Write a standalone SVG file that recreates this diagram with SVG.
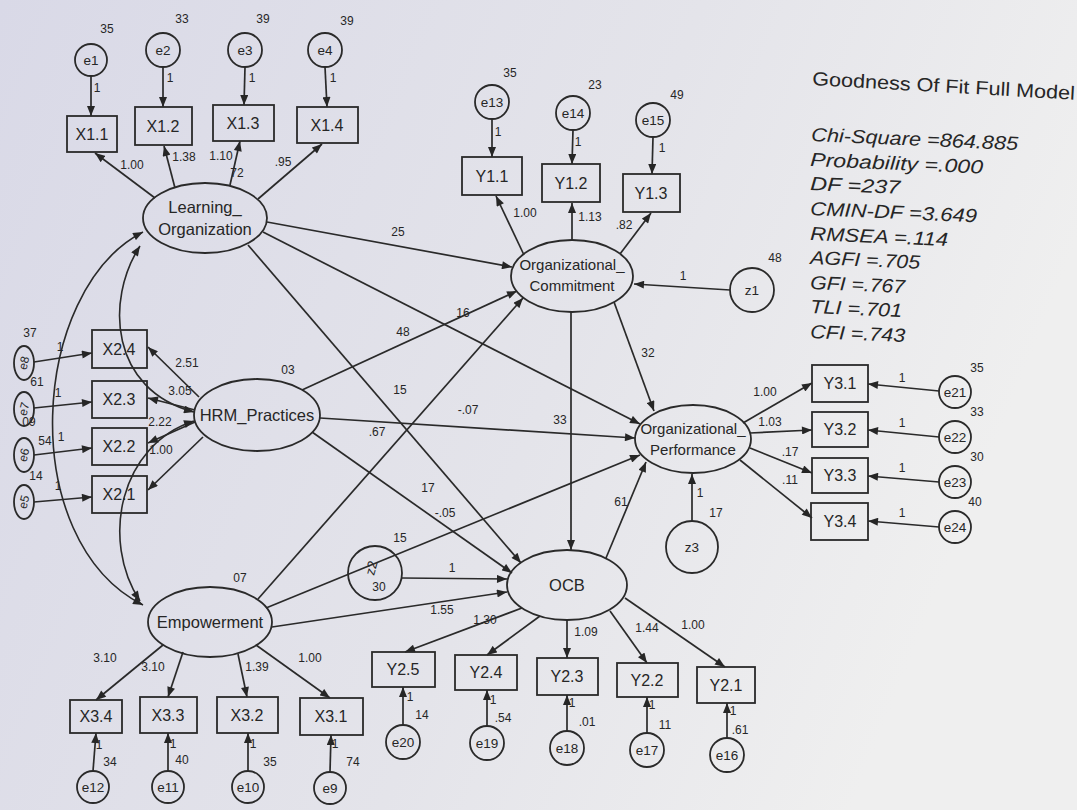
<svg xmlns="http://www.w3.org/2000/svg" width="1077" height="810" viewBox="0 0 1077 810">
<defs>
<linearGradient id="bg" x1="0" y1="0" x2="1" y2="0.3">
<stop offset="0" stop-color="#d9d9e7"/>
<stop offset="0.6" stop-color="#e4e4ea"/>
<stop offset="1" stop-color="#efefef"/>
</linearGradient>
<marker id="a" viewBox="0 0 10 8" refX="10" refY="4" markerWidth="11" markerHeight="8" markerUnits="userSpaceOnUse" orient="auto-start-reverse">
<path d="M0,0 L10,4 L0,8 z" fill="#262626"/>
</marker>
<style>
.n{fill:none;stroke:#2a2a2a;stroke-width:1.8}
.c{fill:none;stroke:#2a2a2a;stroke-width:1.7;marker-end:url(#a)}
.cc{fill:none;stroke:#2a2a2a;stroke-width:1.6;marker-start:url(#a);marker-end:url(#a)}
.t{font-family:"Liberation Sans",Arial,sans-serif;fill:#262626;text-anchor:middle}
.lt{font-size:16.5px}
.mt{font-size:15px}
.bt{font-size:16px}
.et{font-size:13.5px}
.sl{font-size:12px}
.ft{font-family:"Liberation Sans",Arial,sans-serif;fill:#262626;font-size:19px;font-style:italic}
</style>
</defs>
<rect width="1077" height="810" fill="url(#bg)"/>

<g id="connectors">
<line class="c" x1="91" y1="76" x2="91" y2="116"/>
<line class="c" x1="163" y1="67" x2="163" y2="107"/>
<line class="c" x1="245" y1="67" x2="244" y2="105"/>
<line class="c" x1="325" y1="67" x2="327" y2="107"/>
<line class="c" x1="155" y1="198" x2="95" y2="153"/>
<line class="c" x1="175" y1="188" x2="164" y2="146"/>
<line class="c" x1="230" y1="185" x2="240" y2="141"/>
<line class="c" x1="258" y1="199" x2="322" y2="144"/>
<line class="c" x1="492" y1="119" x2="492" y2="157"/>
<line class="c" x1="573" y1="130" x2="572" y2="164"/>
<line class="c" x1="653" y1="137" x2="652" y2="174"/>
<line class="c" x1="524" y1="255" x2="496" y2="196"/>
<line class="c" x1="572" y1="240" x2="572" y2="203"/>
<line class="c" x1="620" y1="254" x2="651" y2="213"/>
<line class="c" x1="730" y1="290" x2="634" y2="284"/>
<line class="c" x1="267" y1="222" x2="512" y2="267"/>
<line class="c" x1="263" y1="232" x2="640" y2="424"/>
<line class="c" x1="248" y1="245" x2="521" y2="563"/>
<line class="c" x1="302" y1="390" x2="517" y2="291"/>
<line class="c" x1="258" y1="599" x2="523" y2="298"/>
<line class="c" x1="320" y1="418" x2="635" y2="438"/>
<line class="c" x1="312" y1="432" x2="512" y2="573"/>
<line class="c" x1="272" y1="627" x2="507" y2="592"/>
<line class="c" x1="266" y1="608" x2="640" y2="455"/>
<line class="c" x1="571" y1="312" x2="571" y2="550"/>
<line class="c" x1="614" y1="302" x2="654" y2="411"/>
<line class="c" x1="606" y1="558" x2="646" y2="462"/>
<line class="c" x1="402" y1="578" x2="507" y2="579"/>
<line class="c" x1="692" y1="521" x2="692" y2="474"/>
<line class="c" x1="199" y1="397" x2="148" y2="347"/>
<line class="c" x1="195" y1="410" x2="148" y2="398"/>
<line class="c" x1="195" y1="422" x2="148" y2="443"/>
<line class="c" x1="203" y1="437" x2="148" y2="490"/>
<line class="c" x1="34" y1="362" x2="92" y2="353"/>
<line class="c" x1="34" y1="408" x2="92" y2="402"/>
<line class="c" x1="34" y1="455" x2="92" y2="448"/>
<line class="c" x1="34" y1="502" x2="92" y2="497"/>
<path class="cc" d="M143,232 C30,290 15,540 143,605"/>
<path class="cc" d="M140,246 C105,300 110,390 194,412"/>
<path class="cc" d="M194,421 C120,445 100,540 140,601"/>
<line class="c" x1="743" y1="423" x2="812" y2="383"/>
<line class="c" x1="750" y1="433" x2="812" y2="430"/>
<line class="c" x1="750" y1="448" x2="812" y2="473"/>
<line class="c" x1="740" y1="460" x2="812" y2="518"/>
<line class="c" x1="939" y1="391" x2="868" y2="384"/>
<line class="c" x1="939" y1="437" x2="868" y2="430"/>
<line class="c" x1="939" y1="482" x2="868" y2="476"/>
<line class="c" x1="939" y1="527" x2="868" y2="521"/>
<line class="c" x1="522" y1="608" x2="405" y2="652"/>
<line class="c" x1="540" y1="616" x2="487" y2="655"/>
<line class="c" x1="567" y1="620" x2="567" y2="658"/>
<line class="c" x1="610" y1="611" x2="647" y2="663"/>
<line class="c" x1="625" y1="598" x2="725" y2="667"/>
<line class="c" x1="403" y1="725" x2="403" y2="687"/>
<line class="c" x1="487" y1="726" x2="487" y2="690"/>
<line class="c" x1="567" y1="731" x2="567" y2="695"/>
<line class="c" x1="647" y1="733" x2="647" y2="697"/>
<line class="c" x1="727" y1="738" x2="727" y2="703"/>
<line class="c" x1="163" y1="645" x2="96" y2="700"/>
<line class="c" x1="183" y1="652" x2="168" y2="697"/>
<line class="c" x1="238" y1="654" x2="247" y2="697"/>
<line class="c" x1="256" y1="645" x2="330" y2="698"/>
<line class="c" x1="93" y1="771" x2="96" y2="733"/>
<line class="c" x1="168" y1="771" x2="168" y2="733"/>
<line class="c" x1="248" y1="771" x2="248" y2="733"/>
<line class="c" x1="330" y1="772" x2="331" y2="735"/>
</g>

<g id="labels" class="t sl">
<text x="107" y="33">35</text><text x="182" y="23">33</text><text x="263" y="23">39</text><text x="347" y="25">39</text>
<text x="97" y="92">1</text><text x="170" y="82">1</text><text x="252" y="82">1</text><text x="333" y="82">1</text>
<text x="132" y="169">1.00</text><text x="184" y="161">1.38</text><text x="221" y="160">1.10</text><text x="237" y="177">72</text><text x="283" y="166">.95</text>
<text x="510" y="77">35</text><text x="595" y="89">23</text><text x="677" y="99">49</text>
<text x="498" y="136">1</text><text x="578" y="146">1</text><text x="662" y="152">1</text>
<text x="525" y="217">1.00</text><text x="590" y="221">1.13</text><text x="624" y="229">.82</text>
<text x="683" y="280">1</text><text x="775" y="262">48</text>
<text x="398" y="236">25</text><text x="463" y="317">16</text><text x="403" y="336">48</text>
<text x="400" y="394">15</text><text x="468" y="414">-.07</text><text x="560" y="424">33</text>
<text x="377" y="436">.67</text><text x="428" y="492">17</text><text x="445" y="517">-.05</text>
<text x="400" y="542">15</text><text x="452" y="572">1</text>
<text x="648" y="357">32</text><text x="621" y="506">61</text>
<text x="700" y="497">1</text><text x="716" y="517">17</text>
<text x="288" y="374">03</text><text x="240" y="582">07</text>
<text x="187" y="367">2.51</text><text x="180" y="395">3.05</text><text x="160" y="426">2.22</text><text x="161" y="454">1.00</text>
<text x="30" y="337">37</text><text x="37" y="386">61</text><text x="29" y="426">09</text><text x="45" y="445">54</text><text x="36" y="480">14</text>
<text x="60" y="351">1</text><text x="58" y="397">1</text><text x="61" y="441">1</text><text x="58" y="490">1</text>
<text x="765" y="396">1.00</text><text x="770" y="426">1.03</text><text x="790" y="456">.17</text><text x="790" y="484">.11</text>
<text x="902" y="382">1</text><text x="902" y="427">1</text><text x="902" y="472">1</text><text x="902" y="517">1</text>
<text x="977" y="372">35</text><text x="977" y="416">33</text><text x="977" y="461">30</text><text x="975" y="506">40</text>
<text x="442" y="614">1.55</text><text x="485" y="624">1.30</text><text x="586" y="636">1.09</text><text x="647" y="632">1.44</text><text x="693" y="629">1.00</text>
<text x="410" y="701">1</text><text x="493" y="704">1</text><text x="572" y="707">1</text><text x="652" y="709">1</text><text x="733" y="715">1</text>
<text x="422" y="719">14</text><text x="503" y="722">.54</text><text x="587" y="726">.01</text><text x="665" y="729">11</text><text x="740" y="734">.61</text>
<text x="105" y="662">3.10</text><text x="153" y="671">3.10</text><text x="257" y="671">1.39</text><text x="310" y="662">1.00</text>
<text x="99" y="749">1</text><text x="173" y="748">1</text><text x="253" y="748">1</text><text x="335" y="748">1</text>
<text x="110" y="766">34</text><text x="182" y="764">40</text><text x="270" y="766">35</text><text x="353" y="766">74</text>
</g>

<g id="e1"><circle class="n" cx="91" cy="60" r="16"/><text class="t et" x="91" y="65">e1</text></g>
<g id="e2"><circle class="n" cx="163" cy="50" r="17"/><text class="t et" x="163" y="55">e2</text></g>
<g id="e3"><circle class="n" cx="245" cy="50" r="17"/><text class="t et" x="245" y="55">e3</text></g>
<g id="e4"><circle class="n" cx="325" cy="50" r="17"/><text class="t et" x="325" y="55">e4</text></g>
<g id="X1.1"><rect class="n" x="67" y="116" width="50" height="36"/><text class="t bt" x="92" y="140">X1.1</text></g>
<g id="X1.2"><rect class="n" x="135" y="107" width="57" height="38"/><text class="t bt" x="163" y="132">X1.2</text></g>
<g id="X1.3"><rect class="n" x="213" y="105" width="61" height="36"/><text class="t bt" x="243" y="129">X1.3</text></g>
<g id="X1.4"><rect class="n" x="297" y="107" width="61" height="36"/><text class="t bt" x="327" y="131">X1.4</text></g>
<g id="Learning_Organization"><ellipse class="n" cx="205" cy="218" rx="62" ry="35"/><text class="t lt" x="205" y="213">Learning_</text><text class="t lt" x="205" y="235">Organization</text></g>

<g id="e13"><circle class="n" cx="492" cy="102" r="17"/><text class="t et" x="492" y="107">e13</text></g>
<g id="e14"><circle class="n" cx="573" cy="113" r="17"/><text class="t et" x="573" y="118">e14</text></g>
<g id="e15"><circle class="n" cx="653" cy="120" r="17"/><text class="t et" x="653" y="125">e15</text></g>
<g id="Y1.1"><rect class="n" x="462" y="157" width="60" height="38"/><text class="t bt" x="492" y="182">Y1.1</text></g>
<g id="Y1.2"><rect class="n" x="542" y="164" width="58" height="38"/><text class="t bt" x="571" y="189">Y1.2</text></g>
<g id="Y1.3"><rect class="n" x="623" y="174" width="57" height="38"/><text class="t bt" x="651" y="199">Y1.3</text></g>
<g id="Organizational_Commitment"><ellipse class="n" cx="572" cy="276" rx="61" ry="36"/><text class="t mt" x="572" y="270">Organizational_</text><text class="t mt" x="572" y="291">Commitment</text></g>
<g id="z1"><circle class="n" cx="752" cy="290" r="22"/><text class="t et" x="752" y="295">z1</text></g>

<g id="HRM_Practices"><ellipse class="n" cx="257" cy="415" rx="63" ry="36"/><text class="t lt" x="257" y="421">HRM_Practices</text></g>
<g id="X2.4"><rect class="n" x="92" y="330" width="55" height="38"/><text class="t bt" x="119" y="355">X2.4</text></g>
<g id="X2.3"><rect class="n" x="92" y="381" width="55" height="37"/><text class="t bt" x="119" y="405">X2.3</text></g>
<g id="X2.2"><rect class="n" x="92" y="428" width="55" height="37"/><text class="t bt" x="119" y="452">X2.2</text></g>
<g id="X2.1"><rect class="n" x="92" y="476" width="55" height="37"/><text class="t bt" x="119" y="500">X2.1</text></g>
<g id="e8"><ellipse class="n" cx="24" cy="363" rx="10" ry="17"/><text class="t sl" transform="rotate(-75 24 363)" x="24" y="367">e8</text></g>
<g id="e7"><ellipse class="n" cx="24" cy="409" rx="10" ry="17"/><text class="t sl" transform="rotate(-75 24 409)" x="24" y="413">e7</text></g>
<g id="e6"><ellipse class="n" cx="24" cy="455" rx="10" ry="17"/><text class="t sl" transform="rotate(-75 24 455)" x="24" y="459">e6</text></g>
<g id="e5"><ellipse class="n" cx="24" cy="502" rx="10" ry="17"/><text class="t sl" transform="rotate(-75 24 502)" x="24" y="506">e5</text></g>

<g id="Organizational_Performance"><ellipse class="n" cx="693" cy="439" rx="58" ry="34"/><text class="t mt" x="693" y="434">Organizational_</text><text class="t mt" x="693" y="455">Performance</text></g>
<g id="z3"><circle class="n" cx="692" cy="547" r="26"/><text class="t et" x="692" y="552">z3</text></g>
<g id="Y3.1"><rect class="n" x="812" y="365" width="56" height="37"/><text class="t bt" x="840" y="389">Y3.1</text></g>
<g id="Y3.2"><rect class="n" x="812" y="412" width="56" height="35"/><text class="t bt" x="840" y="435">Y3.2</text></g>
<g id="Y3.3"><rect class="n" x="812" y="458" width="56" height="35"/><text class="t bt" x="840" y="481">Y3.3</text></g>
<g id="Y3.4"><rect class="n" x="811" y="503" width="57" height="37"/><text class="t bt" x="840" y="527">Y3.4</text></g>
<g id="e21"><circle class="n" cx="955" cy="392" r="16"/><text class="t et" x="955" y="397">e21</text></g>
<g id="e22"><circle class="n" cx="955" cy="437" r="16"/><text class="t et" x="955" y="442">e22</text></g>
<g id="e23"><circle class="n" cx="955" cy="482" r="16"/><text class="t et" x="955" y="487">e23</text></g>
<g id="e24"><circle class="n" cx="955" cy="527" r="16"/><text class="t et" x="955" y="532">e24</text></g>

<g id="OCB"><ellipse class="n" cx="567" cy="585" rx="60" ry="35"/><text class="t lt" x="567" y="591">OCB</text></g>
<g id="z2"><circle class="n" cx="375" cy="573" r="27"/><text class="t et" transform="rotate(-75 372 568)" x="372" y="572">z2</text><text class="t sl" x="379" y="591">30</text></g>
<g id="Y2.5"><rect class="n" x="372" y="652" width="63" height="35"/><text class="t bt" x="403" y="675">Y2.5</text></g>
<g id="Y2.4"><rect class="n" x="455" y="655" width="62" height="35"/><text class="t bt" x="486" y="678">Y2.4</text></g>
<g id="Y2.3"><rect class="n" x="537" y="658" width="61" height="37"/><text class="t bt" x="567" y="682">Y2.3</text></g>
<g id="Y2.2"><rect class="n" x="617" y="663" width="61" height="34"/><text class="t bt" x="647" y="686">Y2.2</text></g>
<g id="Y2.1"><rect class="n" x="697" y="667" width="58" height="36"/><text class="t bt" x="726" y="691">Y2.1</text></g>
<g id="e20"><circle class="n" cx="403" cy="742" r="17"/><text class="t et" x="403" y="747">e20</text></g>
<g id="e19"><circle class="n" cx="487" cy="743" r="17"/><text class="t et" x="487" y="748">e19</text></g>
<g id="e18"><circle class="n" cx="567" cy="748" r="17"/><text class="t et" x="567" y="753">e18</text></g>
<g id="e17"><circle class="n" cx="647" cy="750" r="17"/><text class="t et" x="647" y="755">e17</text></g>
<g id="e16"><circle class="n" cx="727" cy="755" r="17"/><text class="t et" x="727" y="760">e16</text></g>

<g id="Empowerment"><ellipse class="n" cx="210" cy="622" rx="62" ry="35"/><text class="t lt" x="210" y="628">Empowerment</text></g>
<g id="X3.4"><rect class="n" x="70" y="700" width="52" height="33"/><text class="t bt" x="96" y="722">X3.4</text></g>
<g id="X3.3"><rect class="n" x="140" y="697" width="57" height="36"/><text class="t bt" x="168" y="721">X3.3</text></g>
<g id="X3.2"><rect class="n" x="217" y="697" width="61" height="36"/><text class="t bt" x="247" y="721">X3.2</text></g>
<g id="X3.1"><rect class="n" x="300" y="698" width="63" height="37"/><text class="t bt" x="331" y="722">X3.1</text></g>
<g id="e12"><circle class="n" cx="93" cy="787" r="16"/><text class="t et" x="93" y="792">e12</text></g>
<g id="e11"><circle class="n" cx="168" cy="787" r="16"/><text class="t et" x="168" y="792">e11</text></g>
<g id="e10"><circle class="n" cx="248" cy="787" r="16"/><text class="t et" x="248" y="792">e10</text></g>
<g id="e9"><circle class="n" cx="330" cy="788" r="16"/><text class="t et" x="330" y="793">e9</text></g>

<g id="fit">
<text class="ft" style="font-style:normal" x="812" y="85" transform="rotate(3.2 812 85)" textLength="263" lengthAdjust="spacingAndGlyphs">Goodness Of Fit Full Model</text>
<text class="ft" x="811" y="141" transform="rotate(2.5 811 141)" textLength="207" lengthAdjust="spacingAndGlyphs">Chi-Square =864.885</text>
<text class="ft" x="810" y="166" transform="rotate(2.5 810 166)" textLength="173" lengthAdjust="spacingAndGlyphs">Probability =.000</text>
<text class="ft" x="810" y="190" transform="rotate(2.5 810 190)" textLength="90" lengthAdjust="spacingAndGlyphs">DF =237</text>
<text class="ft" x="810" y="215" transform="rotate(2.5 810 215)" textLength="167" lengthAdjust="spacingAndGlyphs">CMIN-DF =3.649</text>
<text class="ft" x="810" y="240" transform="rotate(2.5 810 240)" textLength="138" lengthAdjust="spacingAndGlyphs">RMSEA =.114</text>
<text class="ft" x="810" y="264" transform="rotate(2.5 810 264)" textLength="110" lengthAdjust="spacingAndGlyphs">AGFI =.705</text>
<text class="ft" x="810" y="289" transform="rotate(2.5 810 289)" textLength="95" lengthAdjust="spacingAndGlyphs">GFI =.767</text>
<text class="ft" x="810" y="313" transform="rotate(2.5 810 313)" textLength="92" lengthAdjust="spacingAndGlyphs">TLI =.701</text>
<text class="ft" x="810" y="338" transform="rotate(2.5 810 338)" textLength="95" lengthAdjust="spacingAndGlyphs">CFI =.743</text>
</g>
</svg>
